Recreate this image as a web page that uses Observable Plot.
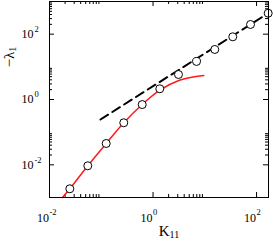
<!DOCTYPE html>
<html>
<head>
<meta charset="utf-8">
<script src="https://cdn.jsdelivr.net/npm/d3@7"></script>
<script src="https://cdn.jsdelivr.net/npm/@observablehq/plot@0.6"></script>
<style>
  html, body { margin: 0; padding: 0; background: #fff; }
</style>
</head>
<body>
<div id="chart"></div>
<script>
// Circles (K11, -lambda1)
const kPts = [0.0247, 0.0549, 0.1245, 0.272, 0.618, 1.35, 3.10, 6.92, 15.6, 34.7, 76.4, 167.6];
const lamPts = [0.00185, 0.00935, 0.045, 0.194, 0.70, 2.13, 5.83, 14.6, 34.0, 83, 198, 438];

// Red curve
const kCurve = [0.0178, 0.0247, 0.0549, 0.1245, 0.272, 0.618, 1.33, 3.15, 5.30, 9.55];
const lamCurve = [0.001, 0.00185, 0.00935, 0.045, 0.194, 0.703, 1.89, 3.82, 4.72, 5.43];

// Dashed asymptote endpoints
const kDash = [0.0966, 167.6];
const lamDash = [0.244, 438];

// Tick values
const majorTicks = [0.01, 1, 100];
const majorExps = ["-2", "0", "2"];
const minorX = [0.02,0.03,0.04,0.05,0.06,0.07,0.08,0.09, 2,3,4,5,6,7,8,9];
const minorY = [0.02,0.03,0.04,0.05,0.06,0.07,0.08,0.09, 2,3,4,5,6,7,8,9, 200,300,400,500,600,700,800,900];

const pts = kPts.map((k, i) => ({k, v: lamPts[i]}));
const curve = kCurve.map((k, i) => ({k, v: lamCurve[i]}));
const dash = kDash.map((k, i) => ({k, v: lamDash[i]}));
const majors = majorTicks.map((t, i) => ({t, e: majorExps[i]}));

const W = 273, H = 241, mL = 49, mR = 5, mT = 1, mB = 44;
const fw = W - mL - mR, fh = H - mT - mB;
const serif = "Liberation Serif, Times New Roman, serif";

const svg = Plot.plot({
  width: W, height: H,
  marginLeft: mL, marginRight: mR, marginTop: mT, marginBottom: mB,
  style: {fontFamily: serif, background: "white", overflow: "visible"},
  x: {type: "log", domain: [0.01, 170], axis: null},
  y: {type: "log", domain: [0.001, 1000], axis: null},
  marks: [
    // ticks bottom/top
    Plot.ruleX(majorTicks, {x: d => d, insetTop: fh - 5, stroke: "black"}),
    Plot.ruleX(majorTicks, {x: d => d, insetBottom: fh - 5, stroke: "black"}),
    Plot.ruleX(minorX, {x: d => d, insetTop: fh - 3, stroke: "black"}),
    Plot.ruleX(minorX, {x: d => d, insetBottom: fh - 3, stroke: "black"}),
    // ticks left/right
    Plot.ruleY(majorTicks, {y: d => d, insetRight: fw - 5, stroke: "black"}),
    Plot.ruleY(majorTicks, {y: d => d, insetLeft: fw - 5, stroke: "black"}),
    Plot.ruleY(minorY, {y: d => d, insetRight: fw - 3, stroke: "black"}),
    Plot.ruleY(minorY, {y: d => d, insetLeft: fw - 3, stroke: "black"}),
    // x tick labels
    Plot.text(majors, {x: "t", text: () => "10", frameAnchor: "bottom", dy: 24, dx: -0.5, textAnchor: "end", lineAnchor: "bottom", fontSize: 12, fill: "black"}),
    Plot.text(majors, {x: "t", text: "e", frameAnchor: "bottom", dy: 17, dx: 0, textAnchor: "start", lineAnchor: "bottom", fontSize: 8.5, fill: "black"}),
    // y tick labels
    Plot.text(majors, {y: "t", text: () => "10", frameAnchor: "left", dx: -16, textAnchor: "end", lineAnchor: "middle", fontSize: 12, fill: "black"}),
    Plot.text(majors, {y: "t", text: "e", frameAnchor: "left", dx: -15, dy: -5, textAnchor: "start", lineAnchor: "middle", fontSize: 8.5, fill: "black"}),
    // axis labels
    Plot.text(["K_11"], {frameAnchor: "bottom", dy: 38, dx: 10, textAnchor: "middle", lineAnchor: "bottom", fontSize: 15, fill: "black"}),
    Plot.text(["−λ_1"], {y: () => 20, frameAnchor: "left", dx: -36, rotate: -90, textAnchor: "middle", lineAnchor: "bottom", fontSize: 15, fill: "black"}),
    // data
    Plot.line(dash, {x: "k", y: "v", stroke: "black", strokeWidth: 2, strokeDasharray: "9,5"}),
    Plot.line(curve, {x: "k", y: "v", stroke: "#ff1a1a", strokeWidth: 1.5, curve: "monotone-x"}),
    Plot.dot(pts, {x: "k", y: "v", r: 4, stroke: "black", fill: "white", strokeWidth: 1}),
    Plot.frame({stroke: "black", strokeWidth: 1})
  ]
});

// subscripts for axis labels
d3.select(svg).selectAll("text").each(function() {
  const t = this.textContent;
  if (t.includes("_")) {
    const [base, sub] = t.split("_");
    const sel = d3.select(this);
    sel.text("");
    sel.append("tspan").text(base);
    sel.append("tspan").attr("dy", "0.2em").attr("font-size", "10px").text(sub);
  }
});

document.getElementById("chart").appendChild(svg);
</script>
</body>
</html>
